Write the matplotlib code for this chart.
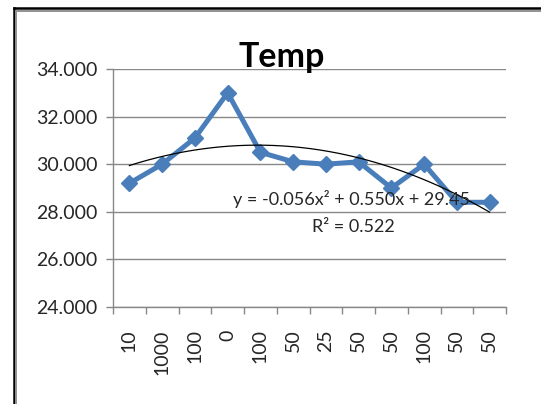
import numpy as np
import matplotlib.pyplot as plt
from matplotlib.lines import Line2D

plt.rcParams['font.family'] = ['Lato', 'DejaVu Sans']

# category labels along the x axis and the temperature readings
categories = ['10', '1000', '100', '0', '100', '50', '25', '50', '50', '100', '50', '50']
temps = [29.2, 30.0, 31.1, 33.0, 30.5, 30.1, 30.0, 30.1, 29.0, 30.0, 28.4, 28.4]

# polynomial trend (order 2) as reported on the chart
trend_coef = [-0.056, 0.550, 29.45]
r_squared = 0.522

y_ticks = [24, 26, 28, 30, 32, 34]

fig = plt.figure(figsize=(5.41, 4.04), dpi=100)
ax = fig.add_axes([0.2089, 0.2401, 0.7264, 0.5891])

blue = '#4A7EBB'
grid_gray = '#888888'

x = np.arange(len(temps))
ax.plot(x, temps, color=blue, linewidth=3.6, marker='D', markersize=8.4,
        markerfacecolor=blue, markeredgecolor=blue, zorder=3)

# trend line evaluated on 1..n like a spreadsheet trendline
xs = np.linspace(1, len(temps), 200)
ax.plot(xs - 1, np.polyval(trend_coef, xs), color='black', linewidth=0.9, zorder=4)

eq = f"y = {trend_coef[0]:.3f}x² + {trend_coef[1]:.3f}x + {trend_coef[2]:.2f}"
ax.text(6.78, 28.55, eq, ha='center', va='center', fontsize=13, color='#262626', zorder=5)
ax.text(6.83, 27.35, f"R² = {r_squared:.3f}", ha='center', va='center',
        fontsize=13, color='#262626', zorder=5)

ax.set_xlim(-0.5, len(temps) - 0.5)
ax.set_ylim(24, 34)
ax.set_yticks(y_ticks)
ax.set_yticklabels([f"{v:.3f}" for v in y_ticks])
ax.set_xticks(x)
ax.set_xticklabels(categories, rotation=90, va='top')
ax.set_xticks(np.arange(len(temps) + 1) - 0.5, minor=True)

ax.tick_params(axis='x', which='major', length=0, pad=16, labelsize=14, labelcolor='#262626')
ax.tick_params(axis='x', which='minor', length=5, width=1, color=grid_gray, direction='out')
ax.tick_params(axis='y', length=5, width=1, color=grid_gray, pad=6, labelsize=14,
               labelcolor='#262626')

ax.grid(axis='y', color=grid_gray, linewidth=1)
ax.set_axisbelow(True)
for side in ['top', 'right']:
    ax.spines[side].set_visible(False)
for side in ['left', 'bottom']:
    ax.spines[side].set_color(grid_gray)
    ax.spines[side].set_linewidth(1)

fig.text(0.521, 0.858, 'Temp', ha='center', va='center', fontsize=24.5,
         fontweight='bold', color='black')

# double border around the chart area
W, H = 541, 404
for px, col, lw in [(13.5, 'black', 1.8), (16.0, '#909090', 1.4)]:
    fig.add_artist(Line2D([px / W, px / W], [0, 1 - (px - 5.5) / H],
                          transform=fig.transFigure, color=col, linewidth=lw))
for py, col, lw in [(8.0, 'black', 1.8), (10.5, '#909090', 1.4)]:
    fig.add_artist(Line2D([(py + 5.5) / W, 1], [1 - py / H, 1 - py / H],
                          transform=fig.transFigure, color=col, linewidth=lw))

fig.savefig('out.png', dpi=100)
